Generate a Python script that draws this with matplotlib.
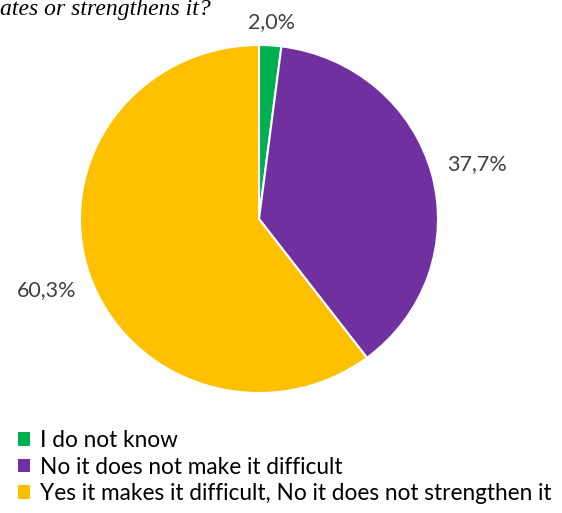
import numpy as np
import matplotlib
matplotlib.use("Agg")
import matplotlib.pyplot as plt
from matplotlib.patches import Patch

categories = ["I do not know", "No it does not make it difficult",
              "Yes it makes it difficult, No it does not strengthen it"]
shares = [2.0, 37.7, 60.3]
share_labels = ["2,0%", "37,7%", "60,3%"]
colors = ["#00B050", "#7030A0", "#FFC000"]
label_dist = [1.145, 1.26, 1.25]

W, H = 562, 513
fig = plt.figure(figsize=(W / 100, H / 100), dpi=100)
fig.patch.set_facecolor("white")

# pie axes: centre (259, 219) px, slightly wider than tall
cx, cy, rx, ry = 259, 219, 179, 174
ax = fig.add_axes([(cx - rx) / W, (H - cy - ry) / H, 2 * rx / W, 2 * ry / H])
wedges, _ = ax.pie(shares, colors=colors, startangle=90, counterclock=False,
                   wedgeprops=dict(edgecolor="white", linewidth=1.5), radius=1.0)
ax.set_xlim(-1, 1)
ax.set_ylim(-1, 1)
ax.set_aspect("auto")
ax.axis("off")

for w, txt, d in zip(wedges, share_labels, label_dist):
    ang = np.deg2rad((w.theta1 + w.theta2) / 2)
    ax.text(d * np.cos(ang), d * np.sin(ang), txt, ha="center", va="center_baseline",
            fontsize=15.5, color="#404040", family="Lato", clip_on=False)

# tail of the question title
fig.text(0, 1 - 15 / H, "ates or strengthens it?", ha="left", va="baseline",
         fontsize=17, style="italic", family="Liberation Serif", color="black")

handles = [Patch(facecolor=c, edgecolor="none") for c in colors]
fig.legend(handles, categories, loc="upper left",
           bbox_to_anchor=(2 / W, 1 - 414 / H), frameon=False,
           prop=dict(family="Lato", size=16.3), handlelength=0.55, handleheight=0.55,
           handletextpad=0.45, labelspacing=0.25, borderpad=0.2)

fig.savefig("out.png", dpi=100, facecolor="white")
